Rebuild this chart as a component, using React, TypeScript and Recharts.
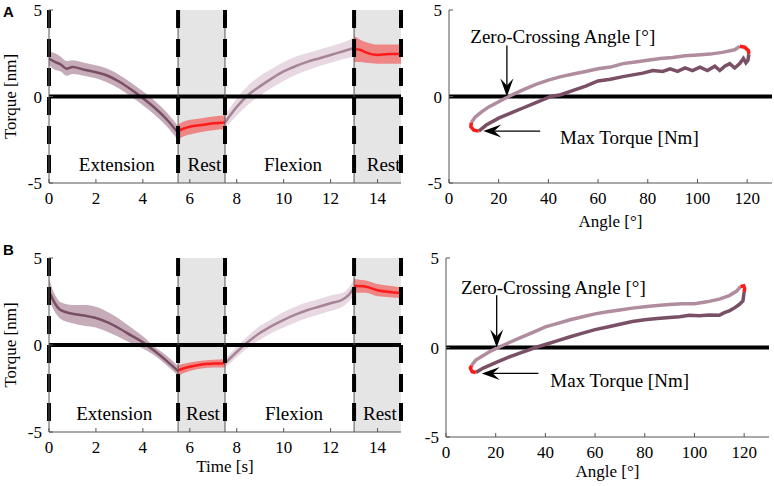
import React from "react";
import {
  ComposedChart,
  LineChart,
  Line,
  Area,
  XAxis,
  YAxis,
  ReferenceLine,
  ReferenceArea,
  ReferenceDot,
} from "recharts";

const FONT = '"Liberation Serif", "Times New Roman", serif';

// ---- panel A, torque over time ----
const extTA = [0, 0.25, 0.5, 0.75, 1, 1.5, 2, 2.5, 3, 3.5, 4, 4.5, 5, 5.5];
const extMeanA = [2.2, 2.0, 1.85, 1.6, 1.7, 1.55, 1.4, 1.2, 0.85, 0.4, -0.1, -0.65, -1.3, -2.1];
const extLoA = [1.8, 1.55, 1.45, 1.2, 1.3, 1.2, 1.05, 0.8, 0.45, 0.0, -0.5, -1.05, -1.7, -2.5];
const extHiA = [2.6, 2.5, 2.3, 2.05, 2.1, 1.95, 1.8, 1.6, 1.25, 0.8, 0.3, -0.25, -0.9, -1.7];

const rest1TA = [5.5, 5.75, 6, 6.5, 7, 7.5];
const rest1MeanA = [-2.0, -1.85, -1.75, -1.65, -1.55, -1.5];
const rest1LoA = [-2.5, -2.3, -2.2, -2.05, -1.95, -1.9];
const rest1HiA = [-1.6, -1.45, -1.35, -1.25, -1.15, -1.1];

const flexTA = [7.5, 8, 8.5, 9, 9.5, 10, 10.5, 11, 11.5, 12, 12.5, 13];
const flexMeanA = [-1.5, -0.6, 0.1, 0.6, 1.05, 1.45, 1.75, 2.0, 2.2, 2.4, 2.6, 2.8];
const flexLoA = [-1.85, -1.1, -0.45, 0.05, 0.5, 0.9, 1.25, 1.5, 1.75, 1.95, 2.15, 2.3];
const flexHiA = [-1.1, -0.1, 0.65, 1.2, 1.6, 2.0, 2.3, 2.5, 2.7, 2.9, 3.1, 3.4];

const rest2TA = [13, 13.25, 13.5, 14, 14.5, 15];
const rest2MeanA = [2.75, 2.7, 2.55, 2.4, 2.45, 2.45];
const rest2LoA = [2.0, 2.0, 1.95, 1.9, 1.9, 1.9];
const rest2HiA = [3.5, 3.3, 3.15, 3.0, 3.0, 3.0];

// ---- panel B, torque over time ----
const extTB = [0, 0.25, 0.5, 1, 1.5, 2, 2.5, 3, 3.5, 4, 4.5, 5, 5.5];
const extMeanB = [3.1, 2.4, 2.0, 1.8, 1.7, 1.55, 1.3, 0.95, 0.55, 0.15, -0.35, -0.9, -1.5];
const extLoB = [2.6, 1.9, 1.5, 1.25, 1.1, 1.0, 0.75, 0.45, 0.1, -0.2, -0.6, -1.15, -1.75];
const extHiB = [3.8, 2.9, 2.45, 2.3, 2.3, 2.2, 1.9, 1.5, 1.0, 0.5, -0.1, -0.6, -1.2];

const rest1TB = [5.5, 6, 6.5, 7, 7.5];
const rest1MeanB = [-1.45, -1.25, -1.12, -1.07, -1.05];
const rest1LoB = [-1.75, -1.5, -1.35, -1.3, -1.3];
const rest1HiB = [-1.15, -1.0, -0.9, -0.85, -0.8];

const flexTB = [7.5, 8, 8.5, 9, 9.5, 10, 10.5, 11, 11.5, 12, 12.5, 12.75, 13];
const flexMeanB = [-1.05, -0.4, 0.2, 0.7, 1.1, 1.45, 1.75, 2.0, 2.2, 2.4, 2.6, 2.85, 3.3];
const flexLoB = [-1.3, -0.7, -0.15, 0.3, 0.7, 1.0, 1.3, 1.55, 1.75, 1.95, 2.2, 2.45, 2.9];
const flexHiB = [-0.8, -0.1, 0.55, 1.1, 1.5, 1.9, 2.2, 2.45, 2.65, 2.85, 3.0, 3.25, 3.8];

const rest2TB = [13, 13.5, 14, 14.5, 15];
const rest2MeanB = [3.4, 3.35, 3.15, 3.05, 3.0];
const rest2LoB = [3.0, 3.0, 2.8, 2.75, 2.7];
const rest2HiB = [3.8, 3.7, 3.5, 3.4, 3.3];

// ---- panel A, torque over angle (loop) ----
const flexAngA = [9, 10.5, 13, 16, 20, 24, 30, 35, 40, 45, 50, 55, 60, 65, 70, 75, 80, 85, 90, 95, 100, 105, 110, 115, 117];
const flexTorqA = [-1.5, -1.2, -0.9, -0.6, -0.3, 0, 0.4, 0.7, 0.95, 1.15, 1.3, 1.45, 1.6, 1.7, 1.9, 2.0, 2.1, 2.2, 2.25, 2.35, 2.4, 2.45, 2.55, 2.7, 2.9];
const restMaxAngA = [117, 119, 120.5, 120.7];
const restMaxTorqA = [2.9, 2.85, 2.65, 2.45];
const extAngA = [120.7, 120.3, 119.5, 118.5, 117, 115, 113, 111, 109, 107, 104, 101, 98, 95, 92, 89, 86, 82, 78, 74, 70, 65, 60, 55, 50, 45, 41, 35, 30, 25, 20, 15, 12];
const extTorqA = [2.45, 2.1, 1.95, 2.2, 1.9, 1.65, 1.9, 1.75, 1.5, 1.75, 1.5, 1.7, 1.5, 1.65, 1.45, 1.6, 1.45, 1.5, 1.35, 1.25, 1.15, 1.0, 0.9, 0.6, 0.35, 0.1, 0, -0.35, -0.65, -0.95, -1.25, -1.65, -2.0];
const restMinAngA = [12, 10, 8.8, 9];
const restMinTorqA = [-2.0, -1.95, -1.75, -1.5];

// ---- panel B, torque over angle (loop) ----
const flexAngB = [10.3, 12, 15, 18, 21, 25, 30, 35, 40, 45, 50, 55, 60, 65, 70, 75, 80, 85, 90, 95, 100, 105, 110, 114, 117, 118.5];
const flexTorqB = [-1.0, -0.7, -0.45, -0.2, 0, 0.25, 0.55, 0.85, 1.15, 1.35, 1.55, 1.72, 1.88, 2.0, 2.1, 2.2, 2.28, 2.35, 2.4, 2.45, 2.45, 2.55, 2.7, 2.9, 3.15, 3.4];
const restMaxAngB = [118.5, 119.8, 120.2, 120];
const restMaxTorqB = [3.4, 3.45, 3.3, 3.1];
const extAngB = [120, 119.5, 118, 116, 114, 112, 110, 106, 102, 98, 94, 90, 85, 80, 75, 70, 65, 60, 55, 50, 45, 40, 36, 30, 25, 20, 15, 12];
const extTorqB = [3.1, 2.6, 2.4, 2.2, 2.05, 1.95, 1.8, 1.82, 1.78, 1.8, 1.72, 1.68, 1.62, 1.55, 1.45, 1.3, 1.15, 1.0, 0.8, 0.6, 0.38, 0.17, 0, -0.3, -0.55, -0.85, -1.15, -1.4];
const restMinAngB = [12, 10.5, 9.8, 10.3];
const restMinTorqB = [-1.4, -1.35, -1.15, -1.0];

const timeTicks = [0, 2, 4, 6, 8, 10, 12, 14];
const angleTicks = [0, 20, 40, 60, 80, 100, 120];
const torqueTicks = [-5, 0, 5];
const phaseEdges = [0, 5.5, 7.5, 13, 15];
const restWindows = [[5.5, 7.5], [13, 15]];
const phaseNames = ["Extension", "Rest", "Flexion", "Rest"];

const EXT_LINE = "#7a4f65";
const EXT_BAND = "#c6abb9";
const FLEX_LINE = "#a78598";
const FLEX_BAND = "#e7d8e1";
const REST_LINE = "#ff1a1a";
const REST_BAND = "#ef8686";
const LOOP_LIGHT = "#b08c9f";
const LOOP_DARK = "#7a5066";

type Seg = { key: string; t: number[]; mean: number[]; lo: number[]; hi: number[] };

function buildRows(segs: Seg[]) {
  const map = new Map<number, any>();
  segs.forEach((s) =>
    s.t.forEach((t, i) => {
      const row = map.get(t) ?? { t };
      row[s.key] = s.mean[i];
      row[s.key + "Band"] = [s.lo[i], s.hi[i]];
      map.set(t, row);
    })
  );
  return [...map.values()].sort((a, b) => a.t - b.t);
}

const toPts = (a: number[], t: number[]) => a.map((v, i) => ({ a: v, t: t[i] }));

const rowsA = buildRows([
  { key: "ext", t: extTA, mean: extMeanA, lo: extLoA, hi: extHiA },
  { key: "rest1", t: rest1TA, mean: rest1MeanA, lo: rest1LoA, hi: rest1HiA },
  { key: "flex", t: flexTA, mean: flexMeanA, lo: flexLoA, hi: flexHiA },
  { key: "rest2", t: rest2TA, mean: rest2MeanA, lo: rest2LoA, hi: rest2HiA },
]);
const rowsB = buildRows([
  { key: "ext", t: extTB, mean: extMeanB, lo: extLoB, hi: extHiB },
  { key: "rest1", t: rest1TB, mean: rest1MeanB, lo: rest1LoB, hi: rest1HiB },
  { key: "flex", t: flexTB, mean: flexMeanB, lo: flexLoB, hi: flexHiB },
  { key: "rest2", t: rest2TB, mean: rest2MeanB, lo: rest2LoB, hi: rest2HiB },
]);

const tickStyle = { fontSize: 17, fill: "#000", fontFamily: FONT };
const AXIS = "#555";

const DashShape = (p: any) => (
  <line
    x1={p.x1}
    x2={p.x2}
    y1={Math.min(p.y1, p.y2)}
    y2={Math.max(p.y1, p.y2)}
    stroke="#000"
    strokeWidth={4}
    strokeDasharray="18 11"
  />
);

const ArrowShape = (p: any) => {
  const { x1, y1, x2, y2 } = p;
  const ang = Math.atan2(y2 - y1, x2 - x1);
  const c = Math.cos(ang);
  const s = Math.sin(ang);
  const at = (d: number, o: number) => `${x2 - d * c - o * s},${y2 - d * s + o * c}`;
  const L = 18;
  const W = 6.5;
  const N = 11;
  return (
    <g>
      <line x1={x1} y1={y1} x2={x2 - N * c} y2={y2 - N * s} stroke="#000" strokeWidth={1.3} />
      <polygon points={`${x2},${y2} ${at(L, W)} ${at(N, 0)} ${at(L, -W)}`} fill="#000" />
    </g>
  );
};

const textLabel = (value: string, size = 19) => ({
  value,
  position: "center" as const,
  fontSize: size,
  fill: "#000",
  fontFamily: FONT,
});

type TimeProps = {
  rows: any[];
  height: number;
  margin: { top: number; right: number; bottom: number; left: number };
  xAxisHeight: number;
  showTime: boolean;
  labelPos: number[];
};

const TimePanel = ({ rows, height, margin, xAxisHeight, showTime, labelPos }: TimeProps) => (
  <ComposedChart width={410} height={height} data={rows} margin={margin}>
    {restWindows.map(([a, b], i) => (
      <ReferenceArea key={"ra" + i} x1={a} x2={b} y1={-5} y2={5} fill="#e5e5e5" fillOpacity={1} stroke="none" />
    ))}
    <XAxis
      dataKey="t"
      type="number"
      domain={[0, 15]}
      ticks={timeTicks}
      allowDataOverflow
      height={xAxisHeight}
      stroke={AXIS}
      tick={tickStyle}
      tickSize={-4}
      tickMargin={13}
      label={
        showTime
          ? { value: "Time [s]", position: "insideBottom", offset: 0, fontSize: 17, fill: "#000", fontFamily: FONT }
          : undefined
      }
    />
    <YAxis
      type="number"
      domain={[-5, 5]}
      ticks={torqueTicks}
      allowDataOverflow
      width={49}
      stroke={AXIS}
      tick={tickStyle}
      tickSize={-4}
      tickMargin={11}
      label={{
        value: "Torque [nm]",
        angle: -90,
        position: "insideLeft",
        offset: 10,
        fontSize: 17,
        fill: "#000",
        fontFamily: FONT,
        style: { textAnchor: "middle" },
      }}
    />
    <Area dataKey="extBand" type="monotone" fill={EXT_BAND} fillOpacity={1} stroke="none" isAnimationActive={false} />
    <Area dataKey="rest1Band" type="monotone" fill={REST_BAND} fillOpacity={1} stroke="none" isAnimationActive={false} />
    <Area dataKey="flexBand" type="monotone" fill={FLEX_BAND} fillOpacity={1} stroke="none" isAnimationActive={false} />
    <Area dataKey="rest2Band" type="monotone" fill={REST_BAND} fillOpacity={1} stroke="none" isAnimationActive={false} />
    <Line dataKey="ext" type="monotone" stroke={EXT_LINE} strokeWidth={2.5} dot={false} isAnimationActive={false} />
    <Line dataKey="rest1" type="monotone" stroke={REST_LINE} strokeWidth={2.5} dot={false} isAnimationActive={false} />
    <Line dataKey="flex" type="monotone" stroke={FLEX_LINE} strokeWidth={2.5} dot={false} isAnimationActive={false} />
    <Line dataKey="rest2" type="monotone" stroke={REST_LINE} strokeWidth={2.5} dot={false} isAnimationActive={false} />
    <ReferenceLine y={0} stroke="#000" strokeWidth={4} />
    {[5.5, 7.5, 13].map((x) => (
      <ReferenceLine key={"thin" + x} x={x} stroke={AXIS} strokeWidth={1} />
    ))}
    {phaseEdges.map((x) => (
      <ReferenceLine key={"dash" + x} x={x} shape={DashShape} />
    ))}
    {phaseNames.map((name, i) => (
      <ReferenceDot key={"ph" + i} x={labelPos[i]} y={-3.92} r={0} fill="none" stroke="none" label={textLabel(name)} />
    ))}
  </ComposedChart>
);

type LoopProps = {
  width: number;
  height: number;
  margin: { top: number; right: number; bottom: number; left: number };
  yAxisWidth: number;
  xAxisHeight: number;
  flex: { a: number; t: number }[];
  restMax: { a: number; t: number }[];
  ext: { a: number; t: number }[];
  restMin: { a: number; t: number }[];
  zeroArrow: { a: number; top: number };
  zeroText: { a: number; t: number };
  maxArrow: { from: number; to: number; t: number };
  maxText: { a: number; t: number };
};

const LoopPanel = (p: LoopProps) => (
  <LineChart width={p.width} height={p.height} margin={p.margin}>
    <XAxis
      dataKey="a"
      type="number"
      domain={[0, 130]}
      ticks={angleTicks}
      allowDataOverflow
      height={p.xAxisHeight}
      stroke={AXIS}
      tick={tickStyle}
      tickSize={-4}
      tickMargin={13}
      label={{ value: "Angle [°]", position: "insideBottom", offset: 0, fontSize: 17, fill: "#000", fontFamily: FONT }}
    />
    <YAxis
      dataKey="t"
      type="number"
      domain={[-5, 5]}
      ticks={torqueTicks}
      allowDataOverflow
      width={p.yAxisWidth}
      stroke={AXIS}
      tick={tickStyle}
      tickSize={-4}
      tickMargin={11}
    />
    <ReferenceLine y={0} stroke="#000" strokeWidth={4} />
    <Line data={p.flex} dataKey="t" type="linear" stroke={LOOP_LIGHT} strokeWidth={3.5} dot={false} isAnimationActive={false} />
    <Line data={p.ext} dataKey="t" type="linear" stroke={LOOP_DARK} strokeWidth={3.5} dot={false} isAnimationActive={false} />
    <Line data={p.restMax} dataKey="t" type="linear" stroke={REST_LINE} strokeWidth={3.5} dot={false} isAnimationActive={false} />
    <Line data={p.restMin} dataKey="t" type="linear" stroke={REST_LINE} strokeWidth={3.5} dot={false} isAnimationActive={false} />
    <ReferenceLine
      segment={[
        { x: p.zeroArrow.a, y: p.zeroArrow.top },
        { x: p.zeroArrow.a, y: 0 },
      ]}
      shape={ArrowShape}
    />
    <ReferenceLine
      segment={[
        { x: p.maxArrow.from, y: p.maxArrow.t },
        { x: p.maxArrow.to, y: p.maxArrow.t },
      ]}
      shape={ArrowShape}
    />
    <ReferenceDot x={p.zeroText.a} y={p.zeroText.t} r={0} fill="none" stroke="none" label={textLabel("Zero-Crossing Angle [°]")} />
    <ReferenceDot x={p.maxText.a} y={p.maxText.t} r={0} fill="none" stroke="none" label={textLabel("Max Torque [Nm]")} />
  </LineChart>
);

const letterStyle: React.CSSProperties = {
  position: "absolute",
  left: 3,
  fontFamily: '"Liberation Sans", Arial, sans-serif',
  fontWeight: "bold",
  fontSize: 15,
  lineHeight: "15px",
};

export default function App() {
  return (
    <div style={{ position: "absolute", left: 0, top: 0, width: 774, height: 486, background: "#fff", overflow: "hidden" }}>
      <div style={{ position: "absolute", left: 0, top: 0 }}>
        <TimePanel
          rows={rowsA}
          height={240}
          margin={{ top: 10, right: 9, bottom: 27, left: 0 }}
          xAxisHeight={30}
          showTime={false}
          labelPos={[2.89, 6.62, 10.4, 14.26]}
        />
      </div>
      <div style={{ position: "absolute", left: 400, top: 0 }}>
        <LoopPanel
          width={374}
          height={240}
          margin={{ top: 10, right: 2, bottom: 13, left: 0 }}
          yAxisWidth={49}
          xAxisHeight={44}
          flex={toPts(flexAngA, flexTorqA)}
          restMax={toPts(restMaxAngA, restMaxTorqA)}
          ext={toPts(extAngA, extTorqA)}
          restMin={toPts(restMinAngA, restMinTorqA)}
          zeroArrow={{ a: 23.3, top: 2.95 }}
          zeroText={{ a: 45.8, t: 3.5 }}
          maxArrow={{ from: 36.7, to: 13.8, t: -2.0 }}
          maxText={{ a: 72.6, t: -2.35 }}
        />
      </div>
      <div style={{ position: "absolute", left: 0, top: 240 }}>
        <TimePanel
          rows={rowsB}
          height={246}
          margin={{ top: 18, right: 9, bottom: 14, left: 0 }}
          xAxisHeight={40}
          showTime={true}
          labelPos={[2.78, 6.56, 10.44, 14.1]}
        />
      </div>
      <div style={{ position: "absolute", left: 400, top: 240 }}>
        <LoopPanel
          width={374}
          height={246}
          margin={{ top: 18, right: 5, bottom: 9, left: 0 }}
          yAxisWidth={46}
          xAxisHeight={40}
          flex={toPts(flexAngB, flexTorqB)}
          restMax={toPts(restMaxAngB, restMaxTorqB)}
          ext={toPts(extAngB, extTorqB)}
          restMin={toPts(restMinAngB, restMinTorqB)}
          zeroArrow={{ a: 20.4, top: 2.92 }}
          zeroText={{ a: 43.2, t: 3.39 }}
          maxArrow={{ from: 37.2, to: 14.4, t: -1.45 }}
          maxText={{ a: 69.9, t: -1.83 }}
        />
      </div>
      <div style={{ ...letterStyle, top: 4 }}>A</div>
      <div style={{ ...letterStyle, top: 242 }}>B</div>
    </div>
  );
}
